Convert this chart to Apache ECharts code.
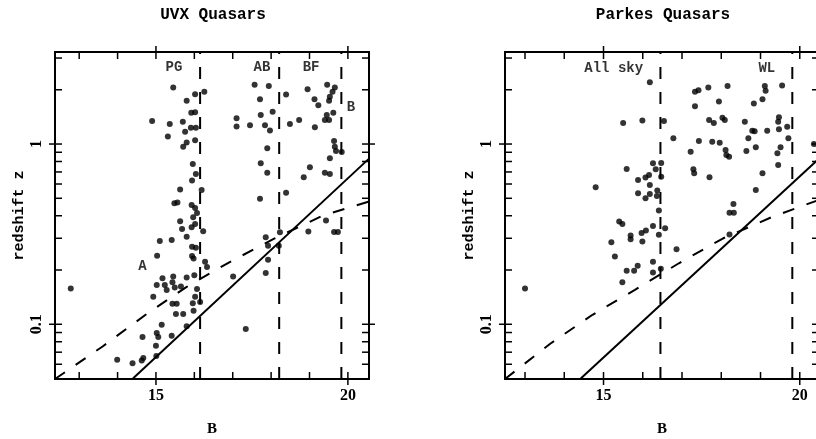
<!DOCTYPE html>
<html>
<head>
<meta charset="utf-8">
<title>UVX / Parkes Quasars</title>
<script src="https://cdn.jsdelivr.net/npm/echarts@6/dist/echarts.min.js"></script>
<style>
  html, body { margin: 0; padding: 0; background: #fff; }
  #chart { width: 816px; height: 439px; }
</style>
</head>
<body>
<div id="chart"></div>
<script>
// 左图 UVX 类星体 [B, z]
const uvxQuasars = [
  [15.45, 2.06], [15.80, 1.74], [16.02, 1.89], [16.26, 1.95], [15.92, 1.49], [16.02, 1.50],
  [14.90, 1.34], [15.36, 1.29], [15.70, 1.33], [15.31, 1.10], [15.76, 1.17], [15.91, 1.23],
  [16.04, 1.23], [16.02, 1.05], [15.80, 1.02], [15.71, 0.966], [15.96, 0.775], [16.04, 0.682],
  [15.94, 0.627], [16.19, 0.555], [15.63, 0.56], [15.48, 0.47], [15.56, 0.474], [15.93, 0.459],
  [16.02, 0.442], [16.07, 0.414],
  [15.63, 0.373], [15.68, 0.338], [15.80, 0.306], [15.97, 0.392], [15.93, 0.345], [16.02, 0.360],
  [16.23, 0.328], [15.10, 0.29], [15.41, 0.293], [15.94, 0.269], [16.04, 0.266], [15.03, 0.24],
  [15.94, 0.239], [15.98, 0.232], [16.28, 0.222], [16.33, 0.208],
  [15.02, 0.165], [15.17, 0.180], [15.23, 0.165], [15.28, 0.155], [15.45, 0.184], [15.43, 0.171],
  [15.49, 0.160], [15.65, 0.162], [15.80, 0.182], [16.00, 0.187], [14.93, 0.142], [15.43, 0.130],
  [15.54, 0.130], [16.07, 0.157], [16.02, 0.142], [16.15, 0.133], [15.96, 0.131], [15.52, 0.114],
  [15.71, 0.114], [15.98, 0.119],
  [15.15, 0.0995], [15.02, 0.0895], [15.06, 0.085], [14.65, 0.085], [15.00, 0.076], [15.41, 0.0863],
  [15.80, 0.0975], [15.01, 0.0667], [14.63, 0.063], [14.67, 0.065], [14.39, 0.0608], [13.99, 0.0636],
  [12.78, 0.158], [17.34, 0.0942],
  [17.86, 0.304], [17.92, 0.273], [18.23, 0.324], [18.20, 0.273], [17.92, 0.228], [17.86, 0.1925],
  [17.01, 0.184], [18.97, 0.327], [19.43, 0.376], [19.64, 0.325], [19.74, 0.325],
  [17.57, 2.13], [17.94, 2.10], [17.71, 1.77], [18.39, 1.88], [18.95, 2.01], [19.46, 2.13],
  [19.66, 2.06], [19.60, 1.95], [19.53, 1.83], [19.51, 1.74], [19.13, 1.77], [19.23, 1.64],
  [18.04, 1.51], [17.73, 1.45], [17.10, 1.39], [17.10, 1.25], [17.45, 1.27], [17.84, 1.27],
  [17.97, 1.19], [18.49, 1.29], [18.73, 1.36], [19.14, 1.24], [19.45, 1.45], [19.40, 1.36],
  [19.51, 1.36], [19.62, 1.49], [17.90, 0.947], [19.64, 1.04], [19.66, 0.966], [19.69, 0.915],
  [19.84, 0.903], [19.53, 0.833], [17.73, 0.782], [19.01, 0.743], [17.90, 0.693], [18.85, 0.654],
  [19.40, 0.693], [19.53, 0.682], [17.71, 0.497], [18.39, 0.537]
];

// 右图 Parkes 类星体 [B, z]
const parkesQuasars = [
  [16.18, 2.20], [15.50, 1.31], [15.99, 1.35], [16.54, 1.34], [16.78, 1.075], [15.59, 0.727],
  [14.80, 0.575], [15.88, 0.631], [16.07, 0.652], [16.16, 0.673], [16.26, 0.782], [16.33, 0.724],
  [16.47, 0.784], [16.47, 0.659], [16.18, 0.592], [16.37, 0.552], [15.88, 0.533], [16.07, 0.50],
  [16.18, 0.528], [16.36, 0.515], [16.41, 0.428],
  [17.33, 1.95], [17.42, 1.99], [17.67, 2.06], [18.16, 2.10], [17.33, 1.62], [17.94, 1.72],
  [17.69, 1.36], [17.81, 1.31], [18.03, 1.40], [18.09, 1.36], [17.43, 1.04], [17.77, 1.03],
  [17.96, 1.017], [17.22, 0.906], [18.11, 0.926], [18.13, 0.869], [18.20, 0.85], [17.29, 0.724],
  [17.31, 0.688], [17.70, 0.654], [18.60, 1.33], [18.79, 1.185], [18.85, 1.176], [18.69, 1.075],
  [18.64, 0.915], [18.88, 0.959], [19.11, 2.10], [19.13, 1.975], [19.55, 2.11], [18.83, 1.68],
  [19.05, 1.77], [19.17, 1.185], [19.47, 1.406], [19.45, 1.33], [19.47, 1.207], [19.68, 1.247],
  [19.71, 1.075], [19.51, 0.959], [19.43, 0.888], [19.45, 0.765], [19.05, 0.688], [18.88, 0.556],
  [18.31, 0.465], [18.21, 0.416], [18.32, 0.416], [20.36, 1.0],
  [13.00, 0.158], [15.40, 0.372], [15.48, 0.360], [15.20, 0.285], [15.29, 0.238], [15.69, 0.311],
  [15.69, 0.296], [15.97, 0.321], [16.08, 0.331], [15.99, 0.288], [16.26, 0.351], [16.41, 0.314],
  [16.57, 0.341], [15.59, 0.198], [15.78, 0.198], [15.87, 0.211], [15.48, 0.171], [16.26, 0.222],
  [16.26, 0.194], [16.46, 0.203], [16.86, 0.261], [18.21, 0.315]
];

// 实线（等光度线）
const uvxSolidLine = [[14.40, 0.05], [20.55, 0.83]];
const parkesSolidLine = [[14.42, 0.05], [20.49, 0.83]];

// 虚线曲线
const uvxDashedCurve = [
  [12.37, 0.0497], [13.61, 0.0753], [14.73, 0.1129], [15.78, 0.1603],
  [16.91, 0.2208], [18.08, 0.2985], [19.34, 0.40], [20.55, 0.48]
];
const parkesDashedCurve = [
  [12.49, 0.0497], [13.65, 0.0782], [14.72, 0.1129], [15.80, 0.1553],
  [16.92, 0.218], [18.05, 0.300], [19.32, 0.396], [20.49, 0.49]
];

// 巡天极限星等（竖虚线）
const uvxSurveyLimits = [16.15, 18.21, 19.83];
const parkesSurveyLimits = [16.45, 19.81];

// 图内标注 [B, z, 文本]
const uvxLabels = [[15.47, 2.66, 'PG'], [17.76, 2.66, 'AB'], [19.04, 2.66, 'BF'], [20.08, 1.59, 'B'], [14.65, 0.208, 'A']];
const parkesLabels = [[15.26, 2.61, 'All sky'], [19.16, 2.63, 'WL']];

// 刻度
const xMajorTicks = [15, 20];
const xMinorTicks = [13, 14, 16, 17, 18, 19];
const yMajorTicks = [0.1, 1];
const yMinorTicks = [0.06, 0.07, 0.08, 0.09, 0.2, 0.3, 0.4, 0.5, 0.6, 0.7, 0.8, 0.9, 2, 3];

const yRange = [0.0497, 3.24];

const panels = [
  { title: 'UVX Quasars', titleX: 213, left: 55, xRange: [12.37, 20.55],
    points: uvxQuasars, solid: uvxSolidLine, dashed: uvxDashedCurve, limits: uvxSurveyLimits, labels: uvxLabels },
  { title: 'Parkes Quasars', titleX: 663, left: 505, xRange: [12.49, 20.49],
    points: parkesQuasars, solid: parkesSolidLine, dashed: parkesDashedCurve, limits: parkesSurveyLimits, labels: parkesLabels }
];

const monoBold = { fontFamily: 'Liberation Mono', fontWeight: 'bold', color: '#000' };
const serifBold = { fontFamily: 'Liberation Serif', fontWeight: 'bold', color: '#000' };
const dashPattern = [12, 13];

// 刻度线：0 x次 1 x主 2 y次 3 y主
function tickData(xr) {
  const d = [];
  xMinorTicks.forEach(v => d.push([v, yRange[0], 0]));
  xMajorTicks.forEach(v => d.push([v, yRange[0], 1]));
  yMinorTicks.forEach(v => d.push([xr[0], v, 2]));
  yMajorTicks.forEach(v => d.push([xr[0], v, 3]));
  return d;
}

function makeTickRenderer(xr) {
  return function (params, api) {
    const kind = api.value(2);
    const inLen = 7;
    const outLen = kind % 2 === 1 ? 6 : 0;
    const st = { stroke: '#000', lineWidth: 1.5 };
    if (kind < 2) {
      const x = api.value(0);
      const b = api.coord([x, yRange[0]]);
      const t = api.coord([x, yRange[1]]);
      return { type: 'group', children: [
        { type: 'line', shape: { x1: b[0], y1: b[1] + outLen, x2: b[0], y2: b[1] - inLen }, style: st },
        { type: 'line', shape: { x1: t[0], y1: t[1] - outLen, x2: t[0], y2: t[1] + inLen }, style: st }
      ] };
    }
    const y = api.value(1);
    const l = api.coord([xr[0], y]);
    const r = api.coord([xr[1], y]);
    return { type: 'group', children: [
      { type: 'line', shape: { x1: l[0] - outLen, y1: l[1], x2: l[0] + inLen, y2: l[1] }, style: st },
      { type: 'line', shape: { x1: r[0] + outLen, y1: r[1], x2: r[0] - inLen, y2: r[1] }, style: st }
    ] };
  };
}

const grid = [], xAxis = [], yAxis = [], title = [], series = [];

panels.forEach((p, i) => {
  title.push({
    text: p.title, left: p.titleX, top: 7, textAlign: 'center', padding: 0,
    textStyle: Object.assign({ fontSize: 16 }, monoBold)
  });
  grid.push({
    left: p.left, top: 52, width: 314, height: 327,
    show: true, borderColor: '#000', borderWidth: 2,
    outerBoundsMode: 'none'
  });
  xAxis.push({
    type: 'value', gridIndex: i, min: p.xRange[0], max: p.xRange[1],
    name: 'B', nameLocation: 'middle', nameGap: 43,
    nameTextStyle: Object.assign({ fontSize: 15 }, serifBold),
    axisLine: { show: false }, axisTick: { show: false }, splitLine: { show: false },
    axisLabel: Object.assign({ customValues: xMajorTicks, margin: 9, fontSize: 16, formatter: v => String(v) }, serifBold)
  });
  yAxis.push({
    type: 'log', logBase: 10, gridIndex: i, min: yRange[0], max: yRange[1],
    name: 'redshift z', nameLocation: 'middle', nameGap: 28, nameRotate: 90,
    nameTextStyle: Object.assign({ fontSize: 15 }, monoBold),
    axisLine: { show: false }, axisTick: { show: false }, splitLine: { show: false },
    axisLabel: Object.assign({
      rotate: 90, margin: 10, fontSize: 16, showMinLabel: false, showMaxLabel: false,
      formatter: v => Math.abs(v - 0.1) < 1e-9 ? '0.1' : (Math.abs(v - 1) < 1e-9 ? '1' : '')
    }, serifBold)
  });

  // 数据点
  series.push({
    type: 'scatter', xAxisIndex: i, yAxisIndex: i, data: p.points,
    symbol: 'circle', symbolSize: 6, itemStyle: { color: '#000' }, z: 5, silent: true
  });
  // 实线
  series.push({
    type: 'line', xAxisIndex: i, yAxisIndex: i, data: p.solid, symbol: 'none',
    lineStyle: { color: '#000', width: 2 }, silent: true
  });
  // 虚线曲线
  series.push({
    type: 'line', xAxisIndex: i, yAxisIndex: i, data: p.dashed, symbol: 'none', smooth: false,
    lineStyle: { color: '#000', width: 2, type: dashPattern }, silent: true
  });
  // 竖虚线
  p.limits.forEach(b => {
    series.push({
      type: 'line', xAxisIndex: i, yAxisIndex: i, data: [[b, yRange[0]], [b, yRange[1]]], symbol: 'none',
      lineStyle: { color: '#000', width: 2, type: dashPattern }, silent: true
    });
  });
  // 标注文字
  series.push({
    type: 'scatter', xAxisIndex: i, yAxisIndex: i, symbolSize: 1,
    itemStyle: { color: 'rgba(0,0,0,0)' },
    data: p.labels.map(l => ({ value: [l[0], l[1]], name: l[2] })),
    label: Object.assign({ show: true, position: 'inside', formatter: '{b}', fontSize: 14 }, monoBold),
    silent: true, z: 6
  });
  // 刻度线
  series.push({
    type: 'custom', xAxisIndex: i, yAxisIndex: i, data: tickData(p.xRange),
    renderItem: makeTickRenderer(p.xRange), silent: true, clip: false, z: 4
  });
});

const myChart = echarts.init(document.getElementById('chart'));
const option = {
  backgroundColor: '#fff',
  animation: false,
  title: title,
  grid: grid,
  xAxis: xAxis,
  yAxis: yAxis,
  series: series
};
option && myChart.setOption(option);
window.addEventListener('resize', () => {
  myChart.resize();
});
</script>
</body>
</html>
